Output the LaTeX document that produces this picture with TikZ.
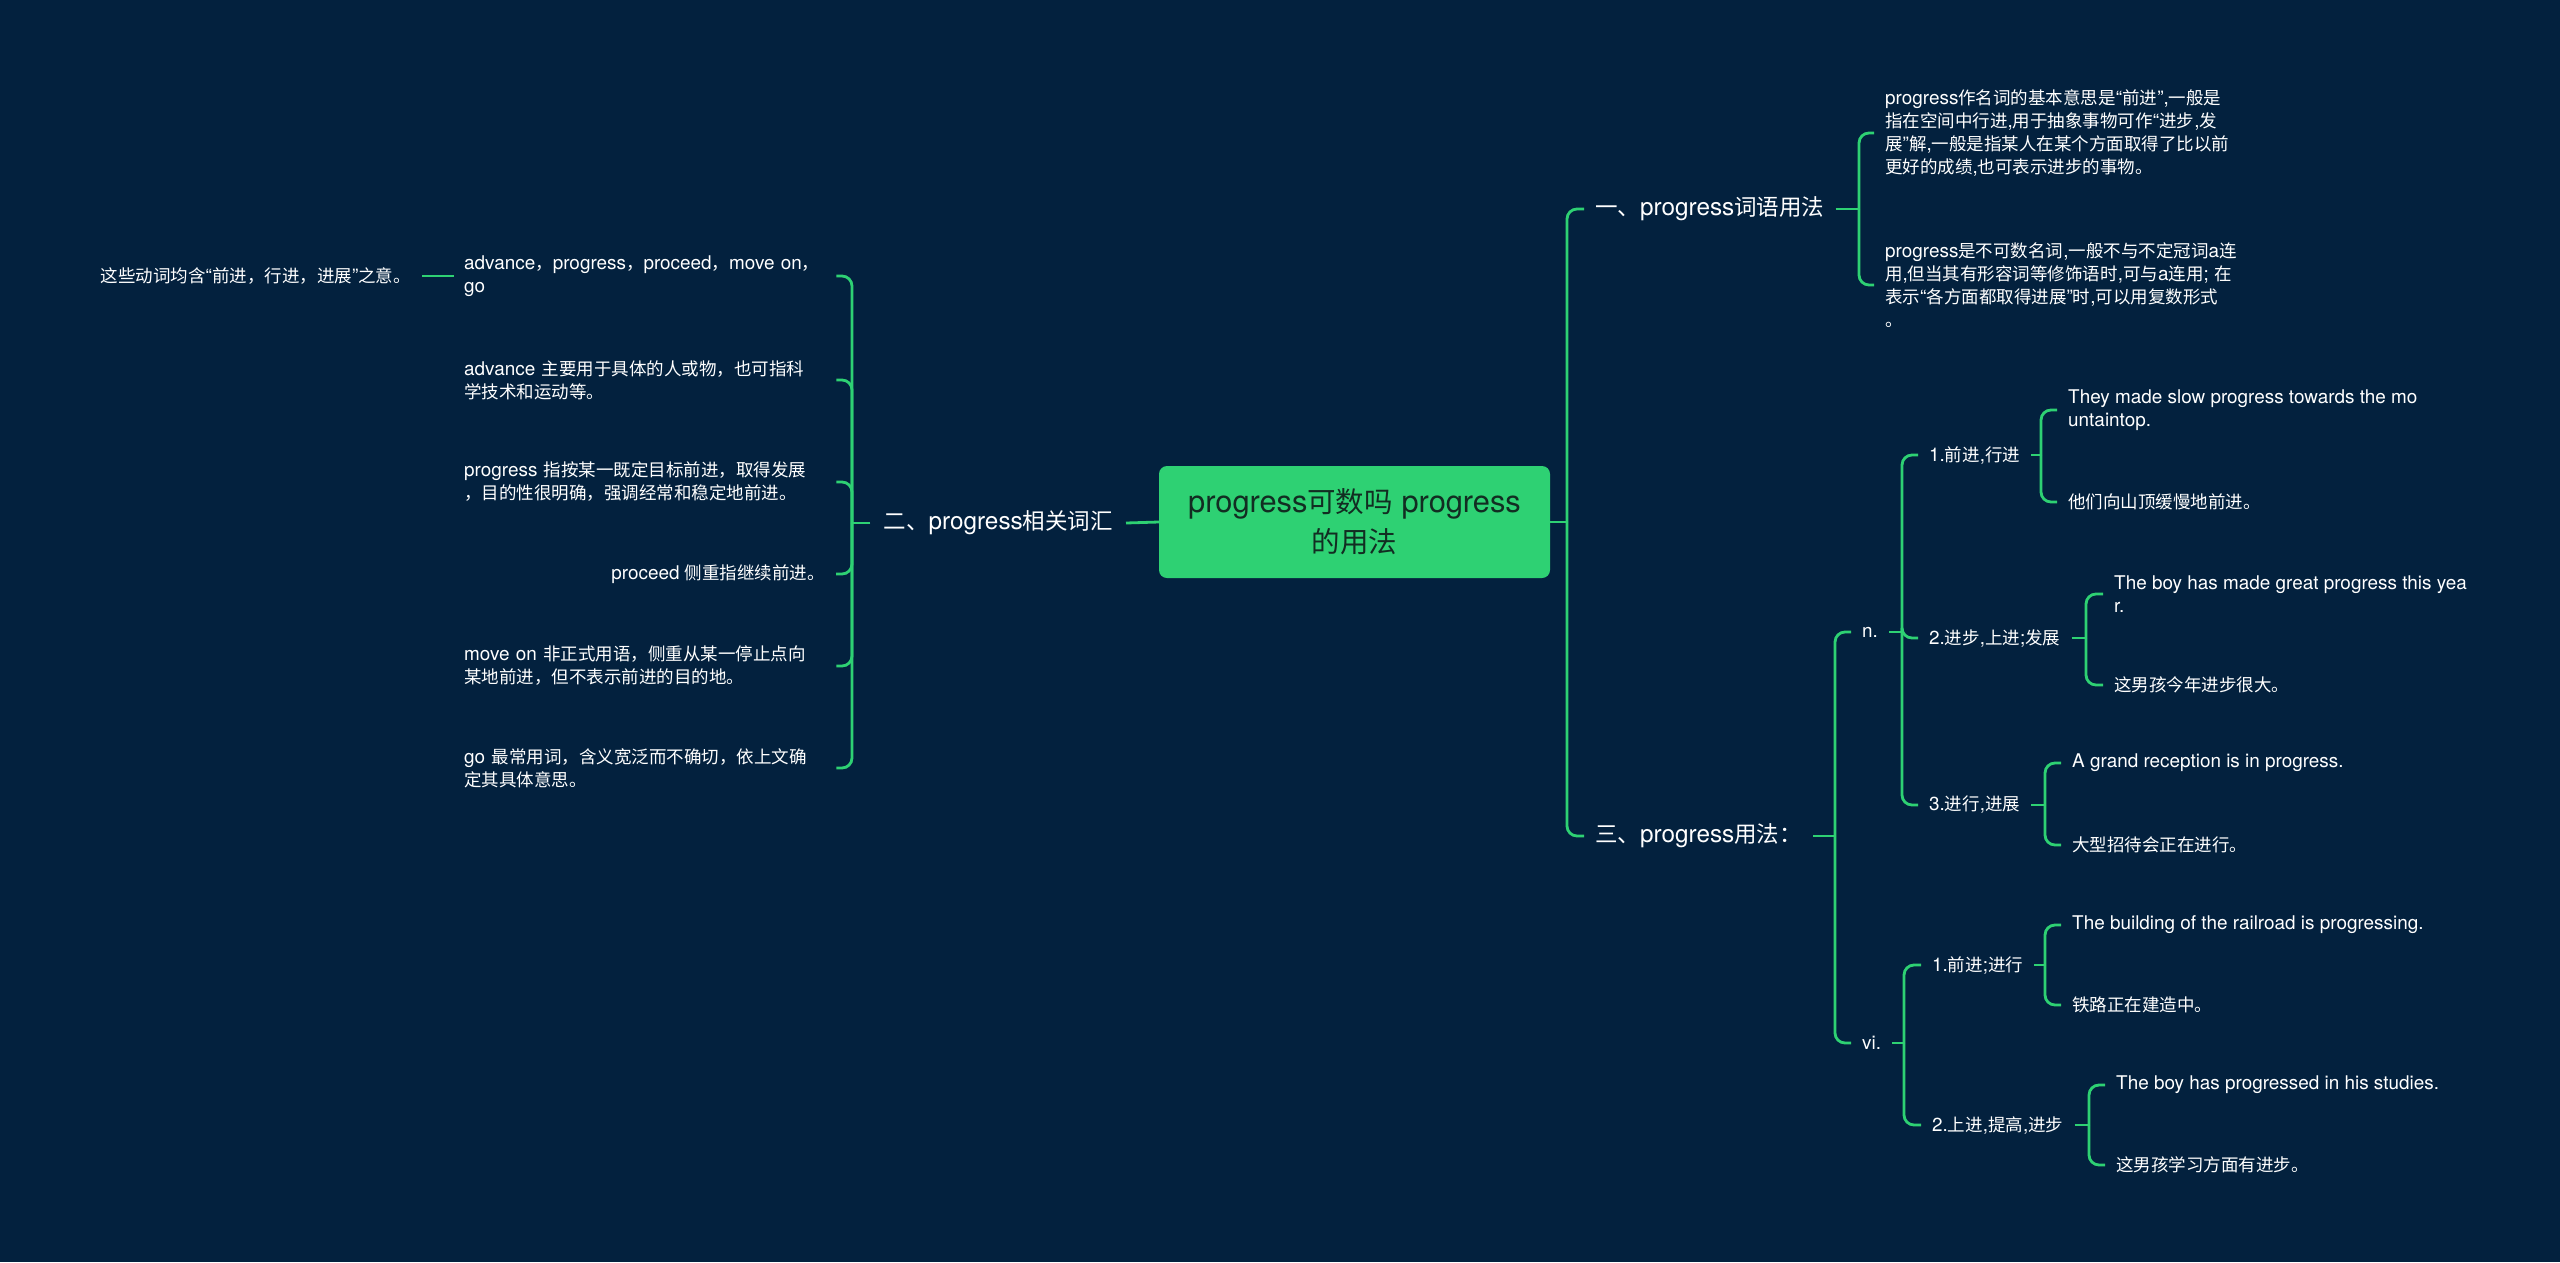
\documentclass[tikz,border=0pt]{standalone}
\usepackage{fontspec}
\setmainfont{TeX Gyre Heros}[Scale=1.08]
\newfontfamily\latf{TeX Gyre Heros}[Scale=1.08]
\newfontfamily\cjkf{Noto Sans CJK SC}
\XeTeXinterchartokenstate=1
\newXeTeXintercharclass\cjkcls
\count255="2E80
\loop \XeTeXcharclass\count255=\cjkcls \ifnum\count255<"9FFF \advance\count255 by 1 \repeat
\count255="FF00
\loop \XeTeXcharclass\count255=\cjkcls \ifnum\count255<"FFEF \advance\count255 by 1 \repeat
\XeTeXinterchartoks 0 \cjkcls = {\cjkf}
\XeTeXinterchartoks 4095 \cjkcls = {\cjkf}
\XeTeXinterchartoks \cjkcls 0 = {\latf}
\XeTeXinterchartoks \cjkcls 4095 = {\latf}
\usetikzlibrary{calc}
\definecolor{bg}{RGB}{3,33,62}
\definecolor{gr}{RGB}{46,209,115}
\definecolor{ctext}{RGB}{18,45,34}
\begin{document}
\begin{tikzpicture}[x=1pt,y=-1pt,
  conn/.style={draw=gr,line width=2.8pt,rounded corners=10pt},
  root/.style={fill=gr,rounded corners=8pt,minimum width=391pt,minimum height=112pt,align=center,text=ctext,font=\fontsize{28.5}{40}\selectfont,inner sep=0pt},
  lone/.style={text=white,font=\fontsize{22.5}{28}\selectfont,inner xsep=11pt,inner ysep=2pt},
  ltwo/.style={text=white,font=\fontsize{17.5}{23}\selectfont,inner xsep=11pt,inner ysep=2pt},
  leaf/.style={text=white,font=\fontsize{17.5}{23}\selectfont,align=left,inner xsep=11pt,inner ysep=2pt},
  lleaf/.style={leaf,text width=362pt,inner xsep=10pt},
]
\useasboundingbox (0,0) rectangle (2560,1262);
\fill[bg] (0,0) rectangle (2560,1262);

% root
\node[root] (c) at (1354.5,522) {progress可数吗 progress\\的用法};

% right level 1
\node[lone,anchor=west] (a) at (1584,209) {一、progress词语用法};
\node[lone,anchor=west] (b) at (1584,836) {三、progress用法：};

% leaves of a
\node[leaf,anchor=west] (a1) at (1874,133) {progress作名词的基本意思是“前进”,一般是\\指在空间中行进,用于抽象事物可作“进步,发\\展”解,一般是指某人在某个方面取得了比以前\\更好的成绩,也可表示进步的事物。};
\node[leaf,anchor=west] (a2) at (1874,285) {progress是不可数名词,一般不与不定冠词a连\\用,但当其有形容词等修饰语时,可与a连用; 在\\表示“各方面都取得进展”时,可以用复数形式\\。};

% n. and vi.
\node[ltwo,anchor=west] (n) at (1851,632) {n.};
\node[ltwo,anchor=west] (v) at (1851,1043) {vi.};

\node[ltwo,anchor=west] (n1) at (1918,455) {1.前进,行进};
\node[ltwo,anchor=west] (n2) at (1918,638) {2.进步,上进;发展};
\node[ltwo,anchor=west] (n3) at (1918,805) {3.进行,进展};
\node[ltwo,anchor=west] (v1) at (1921,965) {1.前进;进行};
\node[ltwo,anchor=west] (v2) at (1921,1125) {2.上进,提高,进步};

\node[leaf,anchor=west] (n1a) at (2057,410) {They made slow progress towards the mo\\untaintop.};
\node[leaf,anchor=west] (n1b) at (2057,502) {他们向山顶缓慢地前进。};
\node[leaf,anchor=west] (n2a) at (2103,594) {The boy has made great progress this yea\\r.};
\node[leaf,anchor=west] (n2b) at (2103,685) {这男孩今年进步很大。};
\node[leaf,anchor=west] (n3a) at (2061,763) {A grand reception is in progress.};
\node[leaf,anchor=west] (n3b) at (2061,845) {大型招待会正在进行。};
\node[leaf,anchor=west] (v1a) at (2061,925) {The building of the railroad is progressing.};
\node[leaf,anchor=west] (v1b) at (2061,1005) {铁路正在建造中。};
\node[leaf,anchor=west] (v2a) at (2105,1085) {The boy has progressed in his studies.};
\node[leaf,anchor=west] (v2b) at (2105,1165) {这男孩学习方面有进步。};

% left side
\node[lone,anchor=east,inner xsep=13pt] (l) at (1126,523) {二、progress相关词汇};
\node[lleaf,anchor=west] (p1) at (454,276) {advance，progress，proceed，move~on，\\go};
\node[lleaf,anchor=west] (p2) at (454,380) {advance~主要用于具体的人或物，也可指科\\学技术和运动等。};
\node[lleaf,anchor=west] (p3) at (454,482) {progress~指按某一既定目标前进，取得发展\\，目的性很明确，强调经常和稳定地前进。};
\node[ltwo,anchor=east] (p4) at (836,574) {proceed 侧重指继续前进。};
\node[lleaf,anchor=west] (p5) at (454,666) {move~on~非正式用语，侧重从某一停止点向\\某地前进，但不表示前进的目的地。};
\node[lleaf,anchor=west] (p6) at (454,768) {go~最常用词，含义宽泛而不确切，依上文确\\定其具体意思。};
\node[ltwo,anchor=east] (z) at (422,276) {这些动词均含“前进，行进，进展”之意。};

% bracket x positions
\coordinate (x0) at (1567,0);
\coordinate (x1) at (1859,0);
\coordinate (x2) at (1835,0);
\coordinate (x3) at (1902,0);
\coordinate (x4a) at (2041,0);
\coordinate (x4b) at (2086,0);
\coordinate (x4c) at (2045,0);
\coordinate (x5) at (1904,0);
\coordinate (x6a) at (2045,0);
\coordinate (x6b) at (2089,0);
\coordinate (xl) at (852,0);

% connectors right
\draw[conn] (c.east) -- (c.east -| x0);
\draw[conn] (c.east -| x0) |- (a.west);
\draw[conn] (c.east -| x0) |- (b.west);

\draw[conn] (a.east) -- (a.east -| x1);
\draw[conn] (a.east -| x1) |- (a1.west);
\draw[conn] (a.east -| x1) |- (a2.west);

\draw[conn] (b.east) -- (b.east -| x2);
\draw[conn] (b.east -| x2) |- (n.west);
\draw[conn] (b.east -| x2) |- (v.west);

\draw[conn] (n.east) -- (n.east -| x3);
\draw[conn] (n.east -| x3) |- (n1.west);
\draw[conn] (n.east -| x3) |- (n2.west);
\draw[conn] (n.east -| x3) |- (n3.west);

\draw[conn] (n1.east) -- (n1.east -| x4a);
\draw[conn] (n1.east -| x4a) |- (n1a.west);
\draw[conn] (n1.east -| x4a) |- (n1b.west);
\draw[conn] (n2.east) -- (n2.east -| x4b);
\draw[conn] (n2.east -| x4b) |- (n2a.west);
\draw[conn] (n2.east -| x4b) |- (n2b.west);
\draw[conn] (n3.east) -- (n3.east -| x4c);
\draw[conn] (n3.east -| x4c) |- (n3a.west);
\draw[conn] (n3.east -| x4c) |- (n3b.west);

\draw[conn] (v.east) -- (v.east -| x5);
\draw[conn] (v.east -| x5) |- (v1.west);
\draw[conn] (v.east -| x5) |- (v2.west);
\draw[conn] (v1.east) -- (v1.east -| x6a);
\draw[conn] (v1.east -| x6a) |- (v1a.west);
\draw[conn] (v1.east -| x6a) |- (v1b.west);
\draw[conn] (v2.east) -- (v2.east -| x6b);
\draw[conn] (v2.east -| x6b) |- (v2a.west);
\draw[conn] (v2.east -| x6b) |- (v2b.west);

% connectors left
\draw[conn] (c.west) -- (l.east);
\draw[conn] (l.west) -- (l.west -| xl);
\foreach \t in {p1,p2,p3,p4,p5,p6}
  \draw[conn] (l.west -| xl) |- (\t.east);
\draw[conn] (p1.west) -- (z.east);
\end{tikzpicture}
\end{document}
